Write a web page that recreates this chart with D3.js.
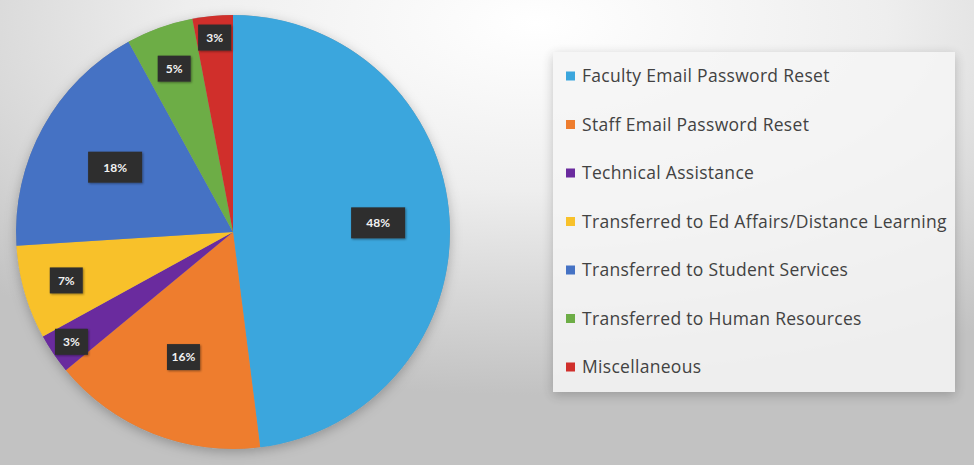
<!DOCTYPE html>
<html>
<head>
<meta charset="utf-8">
<script src="https://cdn.jsdelivr.net/npm/d3@7"></script>
<style>
  body { margin: 0; background: #d0d0d0; }
  svg { display: block; }
</style>
</head>
<body>
<script>
const WIDTH = 974, HEIGHT = 465;

// chart data
const categories = [
    "Faculty Email Password Reset",
    "Staff Email Password Reset",
    "Technical Assistance",
    "Transferred to Ed Affairs/Distance Learning",
    "Transferred to Student Services",
    "Transferred to Human Resources",
    "Miscellaneous"
];
const percents = [48, 16, 3, 7, 18, 5, 3];
const sliceColors = ["#3BA6DD", "#EE7D2E", "#6A2B9E", "#F8C12A", "#4572C4", "#6DAD46", "#D02F2B"];

const svg = d3.select("body").append("svg")
    .attr("width", WIDTH).attr("height", HEIGHT);

const defs = svg.append("defs");

// light patch top-middle fading to gray at the edges
const bg = defs.append("radialGradient").attr("id", "bg")
    .attr("cx", "55%").attr("cy", "5%").attr("r", "80%");
bg.append("stop").attr("offset", "0%").attr("stop-color", "#ffffff");
bg.append("stop").attr("offset", "45%").attr("stop-color", "#eeeeee");
bg.append("stop").attr("offset", "100%").attr("stop-color", "#c2c2c2");

const shadow = defs.append("filter").attr("id", "shadow")
    .attr("x", "-20%").attr("y", "-20%").attr("width", "140%").attr("height", "140%");
shadow.append("feDropShadow").attr("dx", 0).attr("dy", 3).attr("stdDeviation", 6)
    .attr("flood-color", "#000").attr("flood-opacity", 0.25);

const boxShadow = defs.append("filter").attr("id", "boxShadow");
boxShadow.append("feDropShadow").attr("dx", 1).attr("dy", 1).attr("stdDeviation", 1)
    .attr("flood-color", "#000").attr("flood-opacity", 0.4);

svg.append("rect").attr("width", WIDTH).attr("height", HEIGHT).attr("fill", "url(#bg)");

// Pie
const cx = 233, cy = 232, R = 217;
const data = categories.map((c, i) => ({ name: c, value: percents[i], color: sliceColors[i] }));

const pie = d3.pie().value(d => d.value).sort(null);
const arcs = pie(data);
const arc = d3.arc().innerRadius(0).outerRadius(R);

const g = svg.append("g").attr("transform", `translate(${cx},${cy})`);

g.append("circle").attr("r", R).attr("fill", "#999").attr("filter", "url(#shadow)");

g.selectAll("path.slice")
    .data(arcs)
    .enter()
    .append("path")
        .attr("class", "slice")
        .attr("d", arc)
        .attr("fill", d => d.data.color);

// small slices get their label pushed out toward the rim
function labelFrac(v) {
    if (v <= 3) return 0.9;
    if (v <= 7) return 0.8;
    if (v <= 18) return 0.62;
    return 0.67;
}

const labels = g.selectAll("g.lab")
    .data(arcs)
    .enter()
    .append("g")
        .attr("class", "lab")
        .attr("transform", d => {
            const r = R * labelFrac(d.data.value);
            const a = (d.startAngle + d.endAngle) / 2;
            return `translate(${r * Math.sin(a)},${-r * Math.cos(a)})`;
        });

labels.each(function(d) {
    const sel = d3.select(this);
    const big = d.data.value >= 18;
    const w = big ? 54 : 33, h = big ? 31 : 26;
    sel.append("rect")
        .attr("x", -w / 2).attr("y", -h / 2)
        .attr("width", w).attr("height", h)
        .attr("fill", "#2f2f2f")
        .attr("filter", "url(#boxShadow)");
    sel.append("text")
        .attr("text-anchor", "middle")
        .attr("dy", "0.36em")
        .attr("font-family", "Lato, 'Open Sans', sans-serif")
        .attr("font-weight", "bold")
        .attr("font-size", "12px")
        .attr("fill", "#f2f2f2")
        .text(d.data.value + "%");
});

// Legend
const legend = svg.append("g");
legend.append("rect")
    .attr("x", 553).attr("y", 52).attr("width", 402).attr("height", 340)
    .attr("fill", "#f6f6f6").attr("opacity", 0.85)
    .attr("filter", "url(#shadow)");

const ly = d3.scalePoint().domain(categories).range([76, 367]);

const items = legend.selectAll("g.item")
    .data(data)
    .enter()
    .append("g")
        .attr("class", "item")
        .attr("transform", d => `translate(566,${ly(d.name)})`);

items.append("rect")
    .attr("x", 0).attr("y", -4.5)
    .attr("width", 9).attr("height", 9)
    .attr("fill", d => d.color);

items.append("text")
    .attr("x", 16)
    .attr("dy", "0.36em")
    .attr("font-family", "'Open Sans', sans-serif")
    .attr("font-size", "17.5px")
    .attr("letter-spacing", "0.3px")
    .attr("fill", "#424242")
    .text(d => d.name);
</script>
</body>
</html>
